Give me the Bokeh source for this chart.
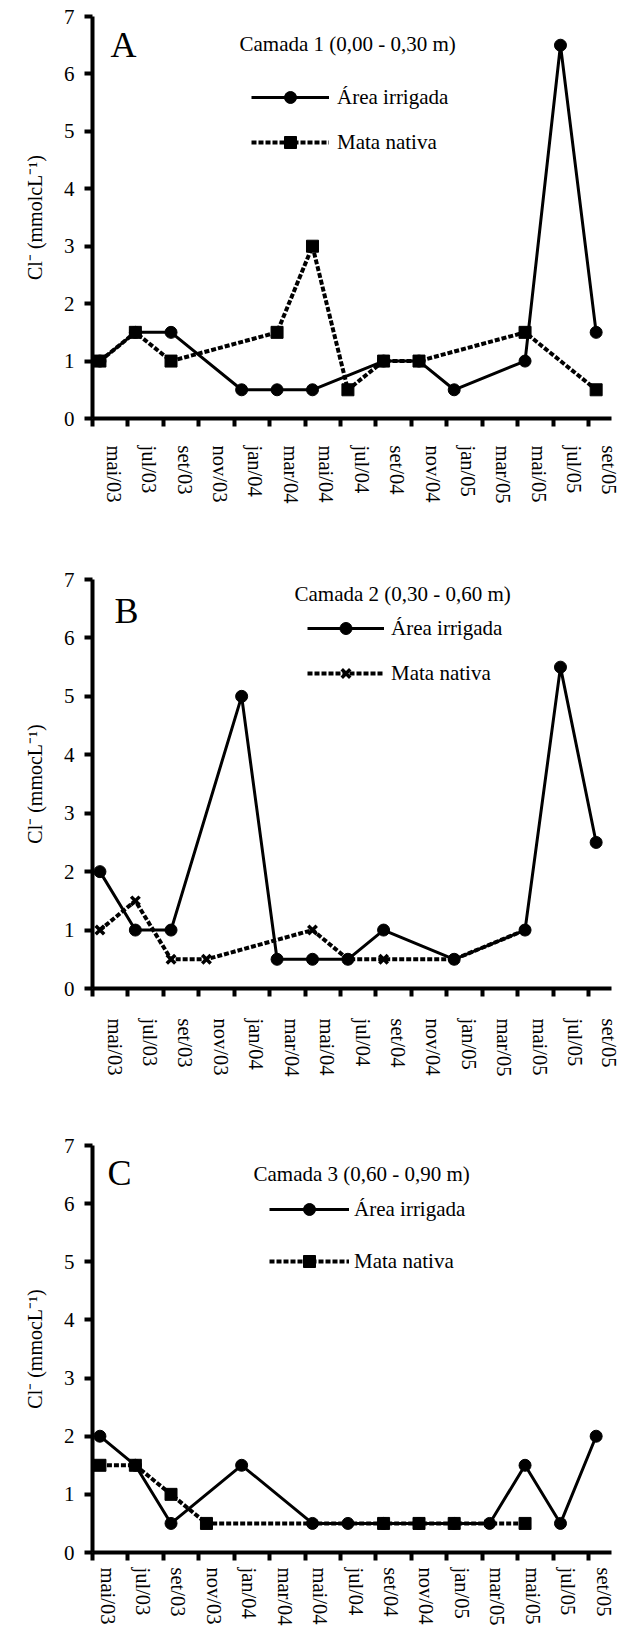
import pandas as pd
from bokeh.plotting import figure
from bokeh.layouts import column
from bokeh.models import (FixedTicker, CustomJSTickFormatter, Range1d, Label, Title,
                          Legend, LegendItem, ColumnDataSource)
from bokeh.embed import file_html
from bokeh.resources import INLINE

# ---------------- data ----------------
meses = ["mai/03", "jul/03", "set/03", "nov/03", "jan/04", "mar/04", "mai/04",
         "jul/04", "set/04", "nov/04", "jan/05", "mar/05", "mai/05", "jul/05", "set/05"]
datas_coleta = ["2003-05-14", "2003-07-14", "2003-09-14", "2003-11-14", "2004-01-14",
                "2004-03-14", "2004-05-14", "2004-07-14", "2004-09-14", "2004-11-14",
                "2005-01-14", "2005-03-14", "2005-05-14", "2005-07-14", "2005-09-14"]

irrigada_c1 = [1.0, 1.5, 1.5, None, 0.5, 0.5, 0.5, None, 1.0, 1.0, 0.5, None, 1.0, 6.5, 1.5]
mata_c1 = [1.0, 1.5, 1.0, None, None, 1.5, 3.0, 0.5, 1.0, 1.0, None, None, 1.5, None, 0.5]
irrigada_c2 = [2.0, 1.0, 1.0, None, 5.0, 0.5, 0.5, 0.5, 1.0, None, 0.5, None, 1.0, 5.5, 2.5]
mata_c2 = [1.0, 1.5, 0.5, 0.5, None, None, 1.0, 0.5, 0.5, None, 0.5, None, 1.0, None, None]
irrigada_c3 = [2.0, 1.5, 0.5, None, 1.5, None, 0.5, 0.5, 0.5, 0.5, 0.5, 0.5, 1.5, 0.5, 2.0]
mata_c3 = [1.5, 1.5, 1.0, 0.5, None, None, None, None, 0.5, 0.5, 0.5, None, 0.5, None, None]

titulos = ["Camada 1 (0,00 - 0,30 m)", "Camada 2 (0,30 - 0,60 m)", "Camada 3 (0,60 - 0,90 m)"]
letras = ["A", "B", "C"]
rotulos_y = ["Cl\u207b (mmolcL\u207b\u00b9)", "Cl\u207b (mmocL\u207b\u00b9)", "Cl\u207b (mmocL\u207b\u00b9)"]
nomes_series = ["Área irrigada", "Mata nativa"]
y_ticks = [0, 1, 2, 3, 4, 5, 6, 7]

# ---------------- helpers ----------------
MES = {"jan": 1, "fev": 2, "mar": 3, "abr": 4, "mai": 5, "jun": 6, "jul": 7,
       "ago": 8, "set": 9, "out": 10, "nov": 11, "dez": 12}
m0, a0 = meses[0].split("/")
MES0, ANO0 = MES[m0], 2000 + int(a0)


def idx_rotulo(r):
    m, a = r.split("/")
    return (2000 + int(a) - ANO0) * 12 + MES[m] - MES0


def idx_data(s):
    d = pd.Timestamp(s)
    return (d.year - ANO0) * 12 + (d.month - MES0) + (d.day - 1) / d.days_in_month


x_coleta = [idx_data(s) for s in datas_coleta]
tick_pos = [idx_rotulo(r) for r in meses]

FONT = "Liberation Serif"
W = 619
LEFT = 92
RIGHT = 8
X_END = 29.3

# layout / style per panel (pixels)
estilos = [
    dict(h=565, top=16, frame=402, shift=1.2, xstand=19, letra=(18, 28), titulo=(147, 27),
         leg=(159, 66, 78, 8, 15), mk="square", yoff=-14),
    dict(h=566, top=14, frame=409, shift=1.25, xstand=22, letra=(22, 31), titulo=(202, 14),
         leg=(215, 34, 77, 7, 15), mk="x", yoff=-14),
    dict(h=498, top=14, frame=407, shift=0.85, xstand=7, letra=(15, 27), titulo=(161, 28),
         leg=(177, 49, 80, 5, 22), mk="square", yoff=-9),
]


def src(vals):
    xs = [x for x, v in zip(x_coleta, vals) if v is not None]
    ys = [v for v in vals if v is not None]
    return ColumnDataSource(dict(x=xs, y=ys))


def painel(k, irr, mata):
    st = estilos[k]
    bottom = st["h"] - st["top"] - st["frame"]
    p = figure(width=W, height=st["h"], x_range=Range1d(0, X_END), y_range=Range1d(0, 7),
               output_backend="svg", toolbar_location=None,
               min_border_left=LEFT, min_border_right=RIGHT,
               min_border_top=st["top"], min_border_bottom=bottom)
    p.xgrid.visible = False
    p.ygrid.visible = False
    p.outline_line_color = None
    p.background_fill_color = "white"
    p.border_fill_color = "white"

    # y axis
    ya = p.yaxis[0]
    ya.ticker = FixedTicker(ticks=y_ticks)
    ya.axis_line_width = 4
    ya.axis_line_color = "black"
    ya.major_tick_in = 0
    ya.major_tick_out = 8
    ya.major_tick_line_width = 4
    ya.major_tick_line_color = "black"
    ya.minor_tick_line_color = None
    ya.major_label_text_font = FONT
    ya.major_label_text_font_size = "21px"
    ya.major_label_text_color = "black"
    ya.major_label_standoff = 10

    # y axis title as a left-side title (allows an offset along the axis)
    p.add_layout(Title(text=rotulos_y[k], text_font=FONT, text_font_size="20px",
                       text_font_style="normal", text_color="black", align="center",
                       offset=st["yoff"], standoff=30), "left")

    # x axis: visible ticks are minor ticks at month boundaries, labels between them
    xa = p.xaxis[0]
    shift = st["shift"]
    xa.ticker = FixedTicker(ticks=[t + shift for t in tick_pos], minor_ticks=tick_pos)
    xa.formatter = CustomJSTickFormatter(args=dict(labels=meses, shift=shift),
                                         code="return labels[Math.round((tick - shift) / 2)];")
    xa.axis_line_width = 4
    xa.axis_line_color = "black"
    xa.major_tick_in = 0
    xa.major_tick_out = 0
    xa.minor_tick_in = 0
    xa.minor_tick_out = 8
    xa.minor_tick_line_width = 4
    xa.minor_tick_line_color = "black"
    xa.major_label_orientation = "vertical"
    xa.major_label_text_font = FONT
    xa.major_label_text_font_size = "20.5px"
    xa.major_label_text_color = "black"
    xa.major_label_standoff = st["xstand"]

    s_irr = src(irr)
    s_mat = src(mata)
    l1 = p.line("x", "y", source=s_irr, line_width=3, line_color="black")
    m1 = p.scatter("x", "y", source=s_irr, marker="circle", size=12,
                   fill_color="black", line_color="black")
    l2 = p.line("x", "y", source=s_mat, line_width=4, line_color="black", line_dash="5 2")
    if st["mk"] == "x":
        m2 = p.scatter("x", "y", source=s_mat, marker="x", size=12, line_width=3.5,
                       line_color="black")
    else:
        m2 = p.scatter("x", "y", source=s_mat, marker="square", size=12,
                       fill_color="black", line_color="black")

    fh = st["frame"]
    lx, ly = st["letra"]
    p.add_layout(Label(x=lx, y=fh - ly, x_units="screen", y_units="screen", text=letras[k],
                       text_font=FONT, text_font_size="36px", text_color="black",
                       text_baseline="middle", text_align="left"))
    tx, ty = st["titulo"]
    p.add_layout(Label(x=tx, y=fh - ty, x_units="screen", y_units="screen", text=titulos[k],
                       text_font=FONT, text_font_size="21px", text_color="black",
                       text_baseline="middle", text_align="left"))

    gx, gy, gw, gs, sp = st["leg"]
    gh = 30
    leg_h = 2 * gh + sp
    leg = Legend(items=[LegendItem(label=nomes_series[0], renderers=[l1, m1]),
                        LegendItem(label=nomes_series[1], renderers=[l2, m2])],
                 location=(gx, fh - gy - leg_h), orientation="vertical",
                 glyph_width=gw, glyph_height=gh, label_height=gh, label_standoff=gs,
                 spacing=sp, padding=0, margin=0, border_line_color=None,
                 background_fill_alpha=0, label_text_font=FONT,
                 label_text_font_size="21px", label_text_color="black")
    p.add_layout(leg)
    return p


pa = painel(0, irrigada_c1, mata_c1)
pb = painel(1, irrigada_c2, mata_c2)
pc = painel(2, irrigada_c3, mata_c3)

layout = column(pa, pb, pc, spacing=0)
open("out.html", "w").write(file_html(layout, INLINE))
